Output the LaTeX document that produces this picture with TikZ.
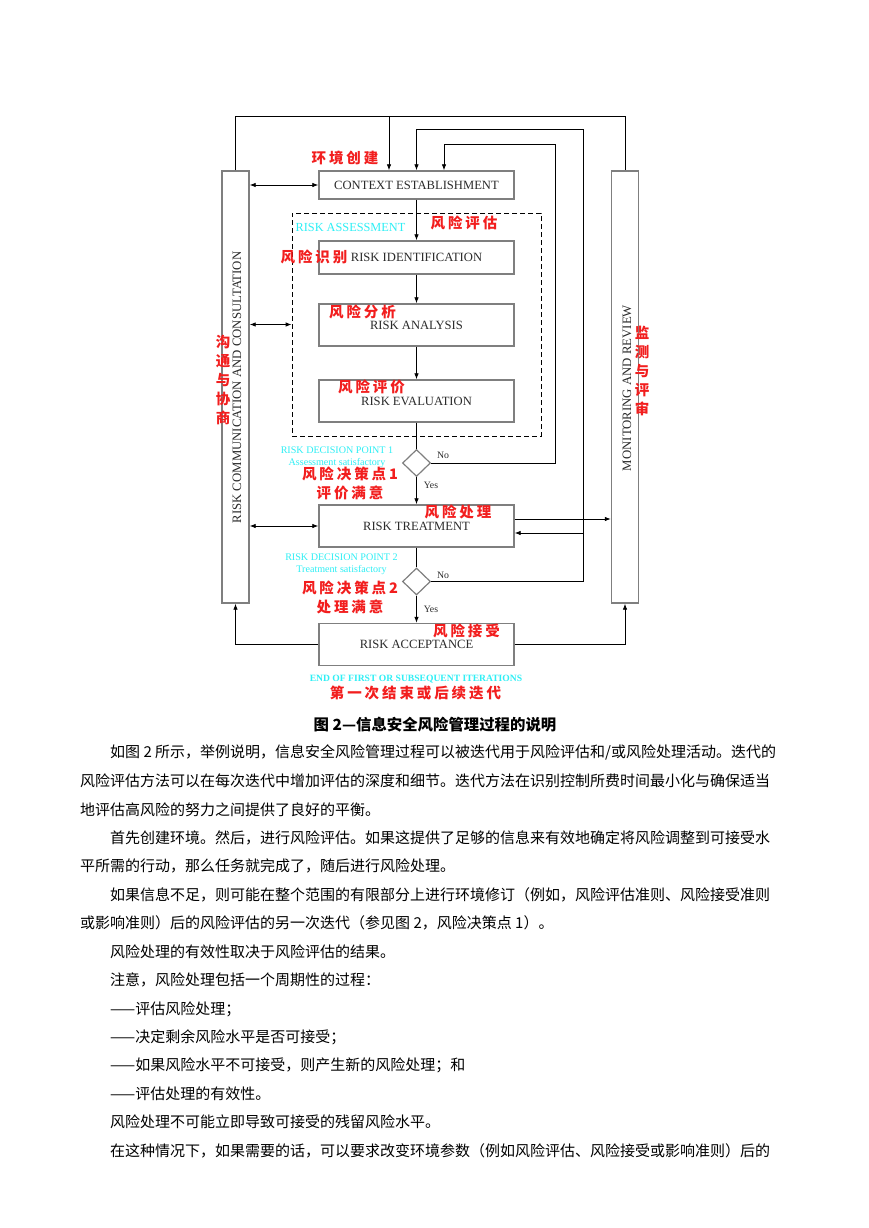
\documentclass[tikz,border=0pt]{standalone}
\usepackage{fontspec}
\setmainfont{Liberation Serif}
\newfontfamily\cjk{Noto Sans CJK SC}
\newfontfamily\cjkhand[LetterSpace=20]{Noto Sans CJK SC}
\usepackage{tikz}
\usetikzlibrary{arrows.meta,positioning,shapes.geometric,calc}
\definecolor{rmbox}{HTML}{7F7F7F}
\definecolor{rmink}{HTML}{2B2B2B}
\definecolor{rmcyan}{HTML}{2EEFF5}
\definecolor{rmred}{HTML}{F21E1E}
\XeTeXlinebreaklocale "zh"
\XeTeXlinebreakskip=0pt plus 1pt
\tikzset{
  stepbox/.style={draw=rmbox,line width=1.4pt,minimum width=195pt,minimum height=42pt,
              inner sep=2pt,font=\fontsize{12.6}{14}\selectfont,text=rmink},
  sidebar/.style={draw=rmbox,line width=1.4pt,minimum width=27pt,minimum height=432pt,inner sep=0pt},
  sidelab/.style={rotate=90,font=\fontsize{12.8}{14}\selectfont,text=rmink,inner sep=0pt},
  decide/.style={diamond,draw=rmbox,line width=1.2pt,minimum width=28pt,minimum height=27pt,inner sep=0pt},
  zone/.style={draw=black,dash pattern=on 5pt off 3pt,line width=0.8pt,minimum width=249pt,minimum height=223pt},
  flow/.style={-{Latex[length=6pt,width=4.5pt]},line width=0.8pt},
  link/.style={line width=0.8pt},
  dual/.style={{Latex[length=6pt,width=4.5pt]}-{Latex[length=6pt,width=4.5pt]},line width=0.8pt},
  cyanlab/.style={text=rmcyan,font=\fontsize{10.1}{12.3}\selectfont,align=center,inner sep=0pt},
  redlab/.style={text=rmred,font=\cjkhand\bfseries\fontsize{14.5}{19}\selectfont,align=center,inner sep=0pt},
  ynlab/.style={font=\fontsize{9.8}{11}\selectfont,text=rmink,inner sep=0pt},
  bodyline/.style={anchor=west,inner sep=0pt,font=\cjk\fontsize{15}{18}\selectfont},
}

\begin{document}
\begin{tikzpicture}[x=1pt,y=-1pt]
  \useasboundingbox (0,0) rectangle (869,1228);
  \fill[white] (0,0) rectangle (869,1228);

  % ================= side bars =================
  \node[sidebar] (comm) at (235.5,387) {};
  \node[sidelab] (commlab) at (237,387.5) {RISK COMMUNICATION AND CONSULTATION};
  \node[sidebar] (mon) at (625,387) {};
  \node[sidelab] (monlab) at (627,388) {MONITORING AND REVIEW};

  % ================= process steps =================
  \node[zone] (assess) at (416.5,324.5) {};
  \node[stepbox,minimum height=28pt] (ctx) at (416.5,185) {CONTEXT ESTABLISHMENT};
  \node[stepbox,minimum height=33pt] (ident) at (416.5,257.5) {RISK IDENTIFICATION};
  \node[stepbox] (anal) at (416.5,325) {RISK ANALYSIS};
  \node[stepbox] (eval) at (416.5,401) {RISK EVALUATION};
  \node[decide] (dp1) at (416.5,463) {};
  \node[stepbox] (treat) at (416.5,526) {RISK TREATMENT};
  \node[decide] (dp2) at (416.5,581.5) {};
  \node[stepbox] (accept) at (416.5,644.5) {RISK ACCEPTANCE};

  % ================= loops back to context =================
  \coordinate (topl) at (235.5,116);
  \coordinate (topr) at (625,116);
  \coordinate (loop1) at (555,144);
  \coordinate (loop2) at (583,129);
  \coordinate (in1) at ($(ctx.north)+(-27.5,0)$);
  \coordinate (in3) at ($(ctx.north)+(27.5,0)$);
  \draw[link] (comm.north) -- (topl) -- (topr) -- (mon.north);
  \draw[flow] (in1 |- topl) -- (in1);
  \draw[flow] (dp2.east) -| (loop2) -| (ctx.north);
  \draw[flow] (dp1.east) -| (loop1) -| (in3);
  \draw[flow] ([yshift=-7pt]treat.east -| loop2) -- ([yshift=-7pt]treat.east);
  \draw[flow] ([yshift=7pt]treat.east) -- ([yshift=7pt]treat.east -| mon.west);

  % ================= main flow =================
  \draw[flow] (ctx) -- (ident);
  \draw[flow] (ident) -- (anal);
  \draw[flow] (anal) -- (eval);
  \draw[link] (eval) -- (dp1);
  \draw[flow] (dp1) -- (treat);
  \draw[link] (treat) -- (dp2);
  \draw[flow] (dp2) -- (accept);
  \draw[flow] (accept.west) -| (comm.south);
  \draw[flow] (accept.east) -| (mon.south);
  \draw[dual] (comm.east |- ctx) -- (ctx.west);
  \draw[dual] (comm.east |- assess.west) -- (assess.west);
  \draw[dual] (comm.east |- treat) -- (treat.west);

  \node[ynlab] (no1)  at (443,455.5) {No};
  \node[ynlab] (yes1) at (431,485) {Yes};
  \node[ynlab] (no2)  at (443,575) {No};
  \node[ynlab] (yes2) at (431,609) {Yes};

  % cyan notes
  \node[cyanlab,font=\fontsize{12.3}{13}\selectfont] (assesslab) at (350.5,227) {RISK ASSESSMENT};
  \node[cyanlab] (dp1lab) at (337,457) {RISK DECISION POINT 1\\Assessment satisfactory};
  \node[cyanlab] (dp2lab) at (341.5,564) {RISK DECISION POINT 2\\Treatment satisfactory};
  \node[cyanlab,font=\bfseries\fontsize{9.6}{11}\selectfont] (endlab) at (416,679) {END OF FIRST OR SUBSEQUENT ITERATIONS};

  % red notes
  \node[redlab] (ctxcn)    at (345,158)   {环境创建};
  \node[redlab] (assesscn) at (464,223)   {风险评估};
  \node[redlab] (identcn)  at (314,257)   {风险识别};
  \node[redlab] (analcn)   at (362.5,312) {风险分析};
  \node[redlab] (evalcn)   at (371.5,386.5) {风险评价};
  \node[redlab] (dp1cn)    at (350,483.5) {风险决策点1\\评价满意};
  \node[redlab] (treatcn)  at (458,512)   {风险处理};
  \node[redlab] (dp2cn)    at (350,597.5) {风险决策点2\\处理满意};
  \node[redlab] (acceptcn) at (466.5,631) {风险接受};
  \node[redlab] (endcn)    at (415.5,693) {第一次结束或后续迭代};
  \node[redlab] (commcn)   at (223,380)   {沟\\通\\与\\协\\商};
  \node[redlab] (moncn)    at (642,370.5) {监\\测\\与\\评\\审};

  % ================= caption and text =================
  \node[font=\cjk\bfseries\fontsize{15.4}{18}\selectfont] (cap) at (435,725) {图 2—信息安全风险管理过程的说明};
  \node[bodyline,text width=680pt,align=justify] (l1) at (110,752)
    {\parfillskip=0pt 如图 2 所示，举例说明，信息安全风险管理过程可以被迭代用于风险评估和/或风险处理活动。迭代的};
  \node[bodyline,text width=710pt,align=justify] (l2) at (80,781)
    {\parfillskip=0pt 风险评估方法可以在每次迭代中增加评估的深度和细节。迭代方法在识别控制所费时间最小化与确保适当};
  \node[bodyline] (l3) at (80,810) {地评估高风险的努力之间提供了良好的平衡。};
  \node[bodyline,text width=680pt,align=justify] (l4) at (110,838)
    {\parfillskip=0pt 首先创建环境。然后，进行风险评估。如果这提供了足够的信息来有效地确定将风险调整到可接受水};
  \node[bodyline] (l5) at (80,866) {平所需的行动，那么任务就完成了，随后进行风险处理。};
  \node[bodyline,text width=680pt,align=justify] (l6) at (110,895)
    {\parfillskip=0pt 如果信息不足，则可能在整个范围的有限部分上进行环境修订（例如，风险评估准则、风险接受准则};
  \node[bodyline] (l7) at (80,923) {或影响准则）后的风险评估的另一次迭代（参见图 2，风险决策点 1）。};
  \node[bodyline] (l8) at (110,952) {风险处理的有效性取决于风险评估的结果。};
  \node[bodyline] (l9) at (110,980) {注意，风险处理包括一个周期性的过程：};
  \node[bodyline] (l10) at (110,1009) {——评估风险处理；};
  \node[bodyline] (l11) at (110,1037) {——决定剩余风险水平是否可接受；};
  \node[bodyline] (l12) at (110,1065) {——如果风险水平不可接受，则产生新的风险处理；和};
  \node[bodyline] (l13) at (110,1094) {——评估处理的有效性。};
  \node[bodyline] (l14) at (110,1122) {风险处理不可能立即导致可接受的残留风险水平。};
  \node[bodyline,text width=680pt,align=justify] (l15) at (110,1151)
    {\parfillskip=0pt 在这种情况下，如果需要的话，可以要求改变环境参数（例如风险评估、风险接受或影响准则）后的};
\end{tikzpicture}
\end{document}
